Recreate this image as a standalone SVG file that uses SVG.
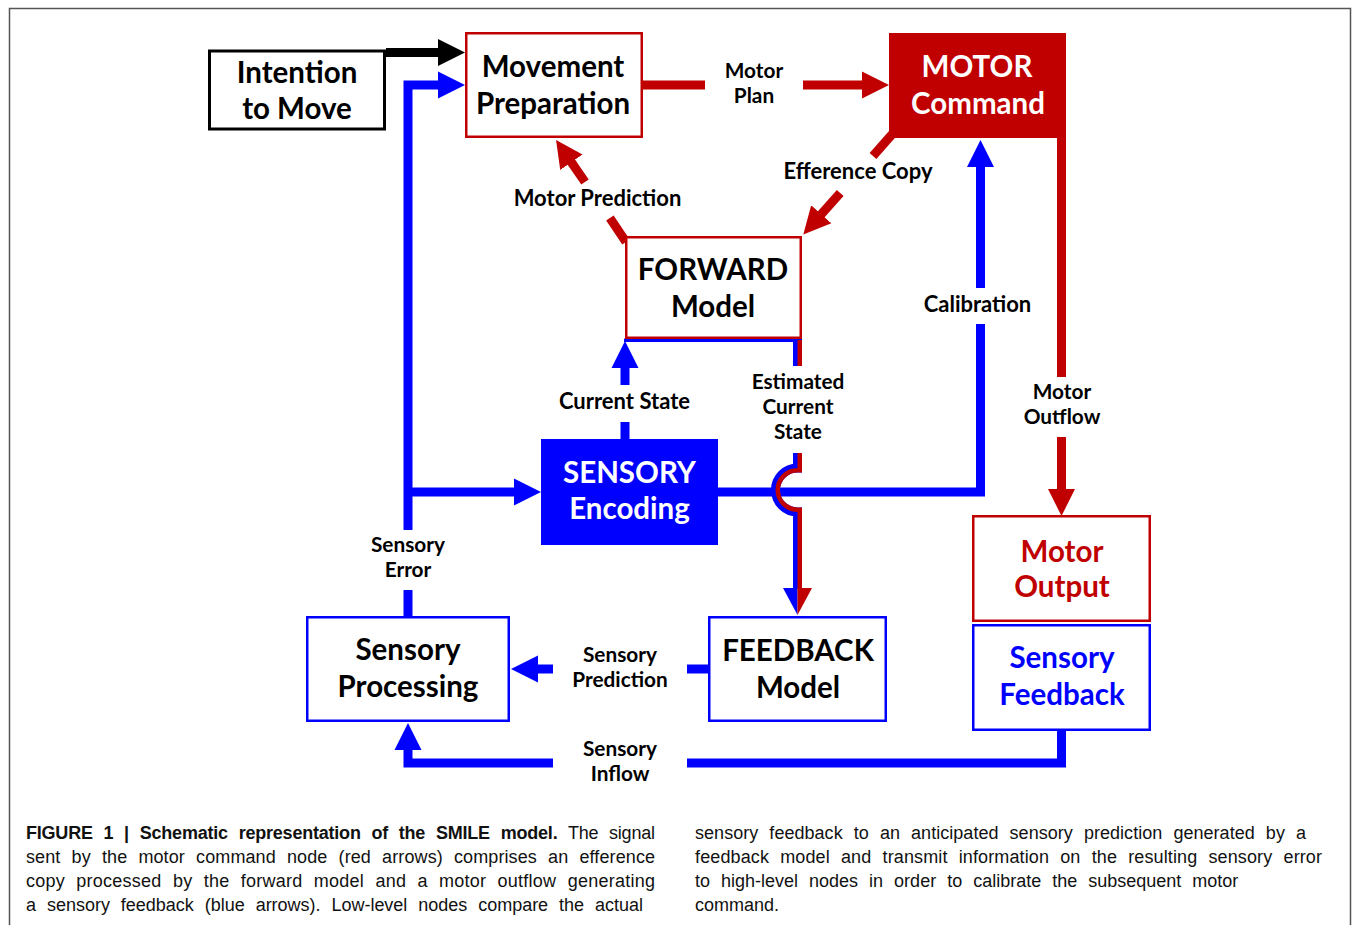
<svg xmlns="http://www.w3.org/2000/svg" width="1352" height="925" viewBox="0 0 1352 925">
<style>
.n{font-family:Lato,"Open Sans",sans-serif;font-weight:bold;font-size:29.5px;text-anchor:middle;fill:#000}
.l{font-family:Lato,"Open Sans",sans-serif;font-weight:bold;font-size:22px;text-anchor:middle;fill:#000}
.m{font-size:20.8px}
.w{fill:#fff}.rt{fill:#c00000}.bt{fill:#0000ff}
.r{stroke:#c00000;stroke-width:9;fill:none}
.b{stroke:#0000ff;stroke-width:9;fill:none}
.k{stroke:#000;stroke-width:9;fill:none}
.bx{fill:#fff;stroke-width:2.5}
.cap{font-family:"Liberation Sans",Arial,sans-serif;font-size:18px;fill:#111;word-spacing:6px}
</style>
<defs>
<marker id="ak" markerUnits="userSpaceOnUse" markerWidth="28" markerHeight="28" refX="1" refY="14" orient="auto" viewBox="0 0 28 28"><path d="M0,0.5 L27,14 L0,27.5z" fill="#000"/></marker>
<marker id="ar" markerUnits="userSpaceOnUse" markerWidth="28" markerHeight="28" refX="1" refY="14" orient="auto" viewBox="0 0 28 28"><path d="M0,0.5 L27,14 L0,27.5z" fill="#c00000"/></marker>
<marker id="ab" markerUnits="userSpaceOnUse" markerWidth="28" markerHeight="28" refX="1" refY="14" orient="auto" viewBox="0 0 28 28"><path d="M0,0.5 L27,14 L0,27.5z" fill="#0000ff"/></marker>
</defs>
<rect width="1352" height="925" fill="#fff"/>
<path d="M9.5,925 V8.5 H1350.5 V925" stroke="#555" stroke-width="1.5" fill="none"/>

<g id="connectors">
  <path class="k" d="M386,52.5 H439" marker-end="url(#ak)"/>
  <path class="b" d="M408,616 V590"/>
  <path class="b" d="M408,530 V85 H439" marker-end="url(#ab)"/>
  <path class="b" d="M408,492 H515" marker-end="url(#ab)"/>
  <path class="r" d="M643,85 H705"/>
  <path class="r" d="M803,85 H863" marker-end="url(#ar)"/>
  <path class="r" d="M895,131 L873,156"/>
  <path class="r" d="M840.2,193 L820.6,215" marker-end="url(#ar)"/>
  <path class="r" d="M626,242 L609.9,218"/>
  <path class="r" d="M585,182 L570.8,161.4" marker-end="url(#ar)"/>
  <path class="b" d="M625,439 V422"/>
  <path class="b" d="M625,385 V367" marker-end="url(#ab)"/>
  <rect x="624" y="338.5" width="178" height="3.5" fill="#0000ff"/>
  <path class="b" d="M718,492 H980.5 V324"/>
  <path class="b" d="M980.5,288 V166" marker-end="url(#ab)"/>
  <path class="r" d="M1061.5,136 V377"/>
  <path class="r" d="M1061.5,437 V490" marker-end="url(#ar)"/>
  <path class="b" d="M709,669 H687"/>
  <path class="b" d="M553,669 H537" marker-end="url(#ab)"/>
  <path class="b" d="M1061.5,731 V763 H687"/>
  <path class="b" d="M553,763 H408 V749" marker-end="url(#ab)"/>
  <g id="estimated-current-state">
    <path class="b" d="M797.5,340 V366"/>
    <path class="b" d="M797.5,453 V468 A22,22 0 0 0 797.5,512 V589"/>
    <path stroke="#c00000" stroke-width="4.5" fill="none" d="M799.75,340 V366"/>
    <path stroke="#c00000" stroke-width="4.5" fill="none" d="M799.75,453 V470.25 H797.5 A19.75,19.75 0 0 0 797.5,509.75 H799.75 V589"/>
    <polygon points="783,588 797.5,588 797.5,615" fill="#0000ff"/>
    <polygon points="797.5,588 812,588 797.5,615" fill="#c00000"/>
  </g>
</g>

<g id="intention">
  <rect x="209.5" y="51" width="175" height="78" fill="#fff" stroke="#000" stroke-width="3"/>
  <text class="n" x="297" y="83">Intention</text>
  <text class="n" x="297" y="119">to Move</text>
</g>
<g id="movement-preparation">
  <rect class="bx" x="466.25" y="33.25" width="175.5" height="103.5" stroke="#c00000"/>
  <text class="n" x="553" y="77">Movement</text>
  <text class="n" x="553" y="114">Preparation</text>
</g>
<g id="motor-command">
  <rect x="889" y="33" width="177" height="105" fill="#c00000"/>
  <text class="n w" x="977" y="77">MOTOR</text>
  <text class="n w" x="978" y="114">Command</text>
</g>
<g id="forward-model">
  <rect class="bx" x="626.25" y="237.25" width="174.5" height="100.5" stroke="#c00000" fill="none"/>
  <text class="n" x="713" y="280">FORWARD</text>
  <text class="n" x="713" y="317">Model</text>
</g>
<g id="sensory-encoding">
  <rect x="541" y="439" width="177" height="106" fill="#0000ff"/>
  <text class="n w" x="629.5" y="483">SENSORY</text>
  <text class="n w" x="629.5" y="519">Encoding</text>
</g>
<g id="sensory-processing">
  <rect class="bx" x="307.25" y="617.25" width="201.5" height="103.5" stroke="#0000ff"/>
  <text class="n" x="408" y="660">Sensory</text>
  <text class="n" x="408" y="697">Processing</text>
</g>
<g id="feedback-model">
  <rect class="bx" x="709.25" y="617.25" width="176.5" height="103.5" stroke="#0000ff"/>
  <text class="n" x="798" y="661">FEEDBACK</text>
  <text class="n" x="798" y="698">Model</text>
</g>
<g id="motor-output">
  <rect class="bx" x="973.25" y="516.25" width="176.5" height="104.5" stroke="#c00000"/>
  <text class="n rt" x="1062" y="562">Motor</text>
  <text class="n rt" x="1062" y="597">Output</text>
</g>
<g id="sensory-feedback">
  <rect class="bx" x="973.25" y="625.25" width="176.5" height="104.5" stroke="#0000ff"/>
  <text class="n bt" x="1062" y="668">Sensory</text>
  <text class="n bt" x="1062" y="705">Feedback</text>
</g>

<g id="labels">
  <text class="l m" x="754" y="78">Motor</text>
  <text class="l m" x="754" y="103">Plan</text>
  <text class="l" x="858" y="179">Efference Copy</text>
  <text class="l" x="597.5" y="206">Motor Prediction</text>
  <text class="l" x="624.5" y="409">Current State</text>
  <text class="l m" x="798" y="389">Estimated</text>
  <text class="l m" x="798" y="414">Current</text>
  <text class="l m" x="798" y="439">State</text>
  <text class="l" x="977.5" y="312">Calibration</text>
  <text class="l m" x="1062" y="399">Motor</text>
  <text class="l m" x="1062" y="424">Outflow</text>
  <text class="l m" x="408" y="552">Sensory</text>
  <text class="l m" x="408" y="577">Error</text>
  <text class="l m" x="620" y="662">Sensory</text>
  <text class="l m" x="620" y="687">Prediction</text>
  <text class="l m" x="620" y="756">Sensory</text>
  <text class="l m" x="620" y="781">Inflow</text>
</g>

<g id="caption">
  <text class="cap" x="26" y="839" textLength="629" lengthAdjust="spacing"><tspan font-weight="bold">FIGURE 1 | Schematic representation of the SMILE model.</tspan> The signal</text>
  <text class="cap" x="26" y="863" textLength="629" lengthAdjust="spacing">sent by the motor command node (red arrows) comprises an efference</text>
  <text class="cap" x="26" y="887" textLength="629" lengthAdjust="spacing">copy processed by the forward model and a motor outflow generating</text>
  <text class="cap" x="26" y="911" textLength="617" lengthAdjust="spacing">a sensory feedback (blue arrows). Low-level nodes compare the actual</text>
  <text class="cap" x="695" y="839" textLength="611" lengthAdjust="spacing">sensory feedback to an anticipated sensory prediction generated by a</text>
  <text class="cap" x="695" y="863" textLength="627" lengthAdjust="spacing">feedback model and transmit information on the resulting sensory error</text>
  <text class="cap" x="695" y="887">to high-level nodes in order to calibrate the subsequent motor</text>
  <text class="cap" x="695" y="911">command.</text>
</g>
</svg>
